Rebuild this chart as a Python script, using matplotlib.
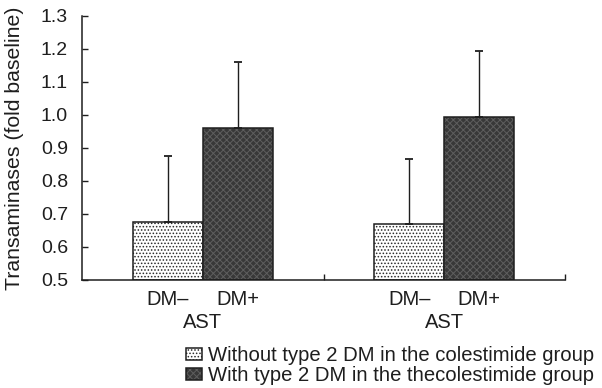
import matplotlib
matplotlib.use("Agg")
import matplotlib.pyplot as plt
from matplotlib.patches import Patch
from matplotlib.legend_handler import HandlerTuple

plt.rcParams['font.family'] = ['Liberation Sans', 'DejaVu Sans']
plt.rcParams['hatch.linewidth'] = 0.7

group_labels = ["AST", "AST"]
bar_labels = ["DM–", "DM+"]
without_dm = [0.675, 0.670]
without_err = [0.200, 0.197]
with_dm = [0.960, 0.993]
with_err = [0.201, 0.200]
yticks = [0.5, 0.6, 0.7, 0.8, 0.9, 1.0, 1.1, 1.2, 1.3]
legend_labels = ["Without type 2 DM in the colestimide group",
                 "With type 2 DM in the thecolestimide group"]

W, H = 602, 388
fig = plt.figure(figsize=(W / 100, H / 100), dpi=100)
ax = fig.add_axes([82 / W, (H - 280) / H, 483 / W, (280 - 15.7) / H])

centers = [0.5, 1.5]
bw = 0.29
ink = "#1e1e1e"
light_kw = dict(facecolor="white", edgecolor="#2a2a2a", hatch=".....", linewidth=0)
dark_kw = dict(facecolor="#383838", edgecolor="#5e5e5e", hatch="xxxxx", linewidth=0)
outline_kw = dict(facecolor="none", edgecolor=ink, linewidth=1.1)

x_light = [c - bw / 2 for c in centers]
x_dark = [c + bw / 2 for c in centers]
h_light = [v - 0.5 for v in without_dm]
h_dark = [v - 0.5 for v in with_dm]
ax.bar(x_light, h_light, bottom=0.5, width=bw, **light_kw)
ax.bar(x_light, h_light, bottom=0.5, width=bw, **outline_kw)
ax.bar(x_dark, h_dark, bottom=0.5, width=bw, **dark_kw)
ax.bar(x_dark, h_dark, bottom=0.5, width=bw, **outline_kw)
ax.errorbar(x_light, without_dm, yerr=[[0] * 2, without_err], fmt="none",
            ecolor=ink, elinewidth=1.0, capsize=3, capthick=1.3)
ax.errorbar(x_dark, with_dm, yerr=[[0] * 2, with_err], fmt="none",
            ecolor=ink, elinewidth=1.0, capsize=3, capthick=1.3)

ax.set_xlim(0, 2)
ax.set_ylim(0.5, 1.3)
ax.set_yticks(yticks)
ax.set_yticklabels([f"{t:.1f}" for t in yticks])
ax.tick_params(axis="y", direction="in", length=4, width=1, labelsize=14,
               pad=10, colors=ink)

ax.set_xticks(x_light + x_dark)
ax.set_xticklabels([bar_labels[0]] * 2 + [bar_labels[1]] * 2)
ax.tick_params(axis="x", length=0, labelsize=14.5, pad=7, colors=ink)
ax.set_xticks([1.0, 2.0], minor=True)
ax.tick_params(axis="x", which="minor", direction="in", length=4, width=1,
               colors=ink)

for c, g in zip(centers, group_labels):
    ax.text(c, -0.16, g, transform=ax.get_xaxis_transform(), ha="center",
            va="center", fontsize=14.5, color=ink)

for s in ["top", "right"]:
    ax.spines[s].set_visible(False)
for s in ["left", "bottom"]:
    ax.spines[s].set_linewidth(1.1)
    ax.spines[s].set_color(ink)

ax.set_ylabel("Transaminases (fold baseline)", fontsize=15.3, color=ink)
ax.yaxis.set_label_coords(-58 / 483, 0.5)

handles = [(Patch(**light_kw), Patch(**outline_kw)),
           (Patch(**dark_kw), Patch(**outline_kw))]
fig.legend(handles, legend_labels, loc="upper left",
           bbox_to_anchor=(176 / W, 1 - 336 / H), frameon=False,
           fontsize=14.6, handlelength=0.8, handleheight=0.55,
           handletextpad=0.3, labelspacing=0.05, borderpad=0,
           handler_map={tuple: HandlerTuple(ndivide=1)}, labelcolor=ink)

fig.savefig("out.png", dpi=100)
